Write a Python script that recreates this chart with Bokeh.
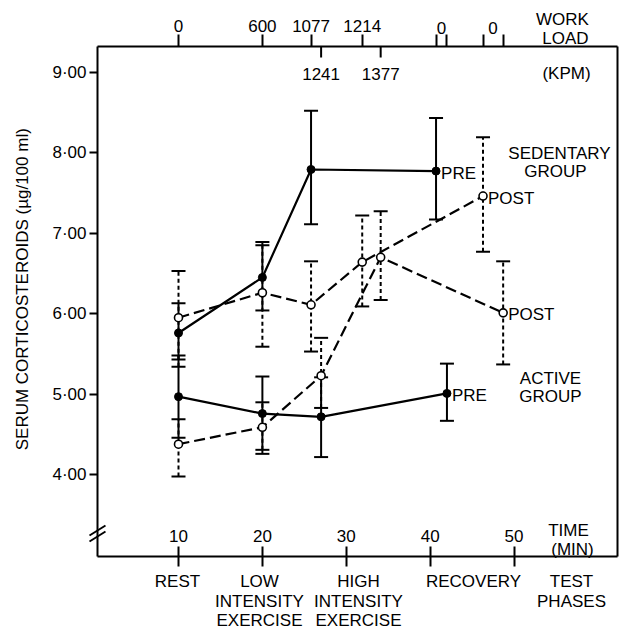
from math import pi
from bokeh.plotting import figure
from bokeh.models import Range1d, LinearAxis, FixedTicker, Label
from bokeh.embed import file_html
from bokeh.resources import INLINE

FONT = "Liberation Sans, Arial, sans-serif"
FS = "17px"

# ---------------- data ----------------
sed_pre_t = [10, 20, 25.8, 40.7]
sed_pre_y = [5.76, 6.45, 7.79, 7.77]
sed_pre_hi = [6.13, 6.89, 8.52, 8.43]
sed_pre_lo = [5.43, 6.04, 7.11, 7.17]

sed_post_t = [10, 20, 25.8, 31.9, 46.3]
sed_post_y = [5.95, 6.26, 6.11, 6.64, 7.46]
sed_post_hi = [6.53, 6.85, 6.65, 7.22, 8.19]
sed_post_lo = [5.34, 5.59, 5.53, 6.09, 6.77]

act_pre_t = [10, 20, 27.0, 42.0]
act_pre_y = [4.97, 4.76, 4.72, 5.01]
act_pre_hi = [5.48, 5.22, 5.21, 5.38]
act_pre_lo = [4.46, 4.26, 4.22, 4.67]

act_post_t = [10, 20, 27.0, 34.1, 48.7]
act_post_y = [4.38, 4.59, 5.23, 6.70, 6.01]
act_post_hi = [4.69, 4.90, 5.70, 7.27, 6.65]
act_post_lo = [3.98, 4.31, 4.83, 6.17, 5.37]

y_ticks = [4, 5, 6, 7, 8, 9]
y_tick_labels = ["4·00", "5·00", "6·00", "7·00", "8·00", "9·00"]

time_ticks = [10, 20, 30, 40, 50]

load_ticks_out = [10, 20, 25.8, 31.9, 40.7, 42.0, 46.3, 48.7]
load_labels_out = ["0", "600", "1077", "1214", "", "", "", ""]
load_pairs = [(40.7, 42.0), (46.3, 48.7)]
load_pair_labels = ["0", "0"]
load_ticks_in = [27.0, 34.1]
load_labels_in = ["1241", "1377"]

phase_lines = [
    ["REST"],
    ["LOW", "INTENSITY", "EXERCISE"],
    ["HIGH", "INTENSITY", "EXERCISE"],
    ["RECOVERY"],
    ["TEST", "PHASES"],
]

# ---------------- layout (canvas pixels) ----------------
W, H = 624, 629
X_PER_PX = 1 / 8.389      # minutes per pixel
Y_PER_PX = 1 / 80.56      # units per pixel
XS = 10 - 178 * X_PER_PX
XE = XS + W * X_PER_PX
YE = 9 + 71.5 * Y_PER_PX
YS = YE - H * Y_PER_PX

F_LEFT, F_RIGHT, F_TOP, F_BOTTOM = 97, 617, 46, 556


def dx(px):
    return XS + px * X_PER_PX


def dy(py):
    return YE - py * Y_PER_PX


p = figure(width=W, height=H, x_range=Range1d(XS, XE), y_range=Range1d(YS, YE),
           output_backend="svg", toolbar_location=None,
           x_axis_location=None, y_axis_location=None,
           min_border_left=0, min_border_right=0, min_border_top=0, min_border_bottom=0)
p.grid.grid_line_color = None
p.outline_line_color = None
p.background_fill_color = "white"
p.border_fill_color = "white"


def style_axis(ax):
    ax.axis_line_color = "black"
    ax.axis_line_width = 2
    ax.major_tick_line_color = "black"
    ax.major_tick_line_width = 2
    ax.minor_tick_line_color = None
    ax.major_label_text_font = FONT
    ax.major_label_text_font_size = FS
    ax.major_label_text_color = "black"


yax = LinearAxis(ticker=FixedTicker(ticks=y_ticks),
                 major_label_overrides=dict(zip(y_ticks, y_tick_labels)),
                 fixed_location=dx(F_LEFT), bounds=(dy(F_BOTTOM), dy(F_TOP)))
style_axis(yax)
yax.major_tick_out = 8
yax.major_tick_in = 0
yax.major_label_standoff = 3
p.add_layout(yax, "left")

rax = LinearAxis(ticker=FixedTicker(ticks=[]),
                 fixed_location=dx(F_RIGHT), bounds=(dy(F_BOTTOM), dy(F_TOP)))
style_axis(rax)
p.add_layout(rax, "right")

bax = LinearAxis(ticker=FixedTicker(ticks=time_ticks),
                 fixed_location=dy(F_BOTTOM), bounds=(dx(F_LEFT), dx(F_RIGHT)))
style_axis(bax)
bax.major_tick_out = 10
bax.major_tick_in = 10
bax.major_label_standoff = -37
p.add_layout(bax, "below")

tax = LinearAxis(ticker=FixedTicker(ticks=load_ticks_out),
                 major_label_overrides=dict(zip(load_ticks_out, load_labels_out)),
                 fixed_location=dy(F_TOP), bounds=(dx(F_LEFT), dx(F_RIGHT)))
style_axis(tax)
tax.major_tick_out = 12
tax.major_tick_in = 0
tax.major_label_standoff = 3
p.add_layout(tax, "above")

# inward ticks on the top axis
p.segment(x0=load_ticks_in, y0=[dy(F_TOP)] * len(load_ticks_in),
          x1=load_ticks_in, y1=[dy(F_TOP + 11)] * len(load_ticks_in),
          line_color="black", line_width=2)

# axis break marks on the left axis
p.segment(x0=[dx(89), dx(89)], y0=[dy(535), dy(541)],
          x1=[dx(105), dx(105)], y1=[dy(525), dy(531)],
          line_color="black", line_width=2)


def lab(text, x, y, align="center", angle=0.0):
    p.add_layout(Label(x=x, y=y, text=text, text_font=FONT, text_font_size=FS,
                       text_color="black", text_align=align, text_baseline="middle",
                       angle=angle))


for (a, b), t in zip(load_pairs, load_pair_labels):
    lab(t, (a + b) / 2, dy(27))
for x, t in zip(load_ticks_in, load_labels_in):
    lab(t, x, dy(73))

lab("WORK", dx(562), dy(19))
lab("LOAD", dx(565), dy(38))
lab("(KPM)", dx(566), dy(73))
lab("TIME", dx(568), dy(530))
lab("(MIN)", dx(572), dy(549))

phase_x = [177, 259, 358, 473, 571]
row_y = [581, 601, 620]
for lines, xc in zip(phase_lines, phase_x):
    for i, t in enumerate(lines):
        lab(t, dx(xc), dy(row_y[i]))

lab("SERUM  CORTICOSTEROIDS  (µg/100 ml)", dx(22), dy(284), angle=pi / 2)

lab("SEDENTARY", dx(559), dy(153))
lab("GROUP", dx(555), dy(171))
lab("ACTIVE", dx(550), dy(378))
lab("GROUP", dx(550), dy(396))

# ---------------- series ----------------
DASH_LINE = "11 5"
DASH_BAR = "4 3"

series = [
    (sed_pre_t, sed_pre_y, sed_pre_hi, sed_pre_lo, True),
    (act_pre_t, act_pre_y, act_pre_hi, act_pre_lo, True),
    (sed_post_t, sed_post_y, sed_post_hi, sed_post_lo, False),
    (act_post_t, act_post_y, act_post_hi, act_post_lo, False),
]

for t, y, hi, lo, pre in series:
    p.line(t, y, line_color="black", line_width=2.2,
           line_dash="solid" if pre else DASH_LINE)

for t, y, hi, lo, pre in series:
    p.segment(x0=t, y0=lo, x1=t, y1=hi, line_color="black", line_width=2,
              line_dash="solid" if pre else DASH_BAR)
    p.scatter(t, hi, marker="dash", size=14, line_color="black", line_width=2)
    p.scatter(t, lo, marker="dash", size=14, line_color="black", line_width=2)

for t, y, hi, lo, pre in series:
    if pre:
        p.scatter(t, y, marker="circle", size=8, fill_color="black", line_color="black")
    else:
        p.scatter(t, y, marker="circle", size=8, fill_color="white",
                  line_color="black", line_width=1.6)

# end labels
lab_pts = [("PRE", sed_pre_t[-1], sed_pre_y[-1]),
           ("POST", sed_post_t[-1], sed_post_y[-1]),
           ("POST", act_post_t[-1], act_post_y[-1]),
           ("PRE", act_pre_t[-1], act_pre_y[-1])]
for text, x, y in lab_pts:
    p.add_layout(Label(x=x, y=y, text=text, text_font=FONT, text_font_size=FS,
                       text_color="black", text_align="left", text_baseline="middle",
                       x_offset=5, y_offset=-2))

open("out.html", "w").write(file_html(p, INLINE))
